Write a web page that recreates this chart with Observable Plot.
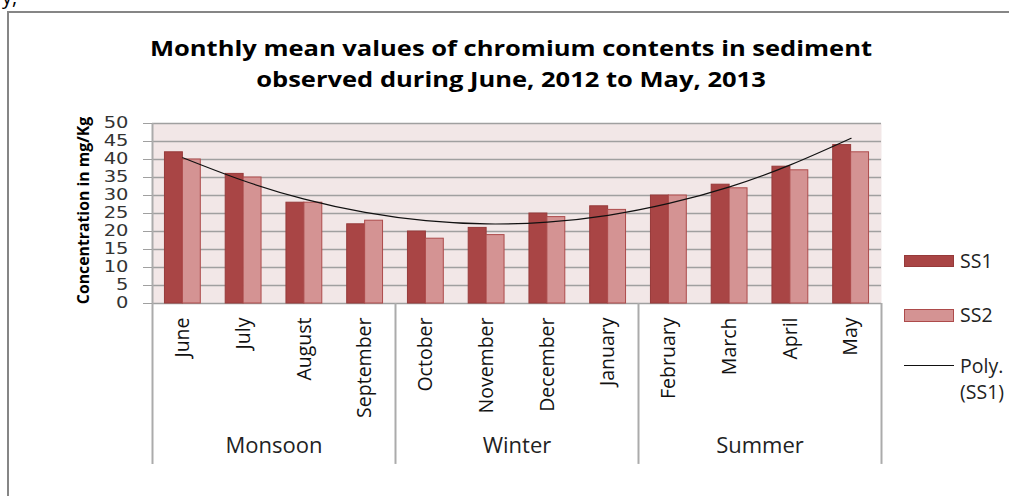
<!DOCTYPE html>
<html>
<head>
<meta charset="utf-8">
<script src="https://cdn.jsdelivr.net/npm/d3@7"></script>
<script src="https://cdn.jsdelivr.net/npm/@observablehq/plot@0.6"></script>
<style>
  html, body { margin: 0; padding: 0; background: #fff; }
  body { width: 1009px; height: 496px; overflow: hidden; position: relative; font-family: "Open Sans", sans-serif; }
  #frame { position: absolute; left: 7px; top: 11px; width: 1200px; height: 700px; border: 2px solid #868686; box-sizing: border-box; }
  #frag { position: absolute; left: 2px; top: -17px; font-size: 20px; color: #000; }
  #title { position: absolute; left: 0; width: 1022px; top: 32px; text-align: center; font-weight: bold; font-size: 22px; line-height: 30.5px; color: #000; transform: scaleX(1.16); transform-origin: 50% 0; }
  #chart { position: absolute; left: 0; top: 0; }
  .sw { position: absolute; box-sizing: border-box; }
  .lt { position: absolute; font-size: 19.5px; line-height: 26px; color: #222; white-space: nowrap; }
</style>
</head>
<body>
<div id="frame"></div>
<div id="frag">y,</div>
<div id="title">Monthly mean values of chromium contents in sediment<br>observed during June, 2012 to May, 2013</div>
<div id="chart"></div>
<div id="legend"></div>
<script>
// ---- data ----
const months = ["June", "July", "August", "September", "October", "November", "December", "January", "February", "March", "April", "May"];
const ss1 = [42, 36, 28, 22, 20, 21, 25, 27, 30, 33, 38, 44];
const ss2 = [40, 35, 28, 23, 18, 19, 24, 26, 30, 32, 37, 42];
const polySS1 = [40.5, 34.1, 29.0, 25.3, 23.0, 22.1, 22.6, 24.5, 27.8, 32.4, 38.5, 45.9];
const seasons = ["Monsoon", "Winter", "Summer"];
const seasonFirstMonth = ["June", "October", "February"];
const seasonMidMonth = ["July", "November", "March"];
const yTicks = [0, 5, 10, 15, 20, 25, 30, 35, 40, 45, 50];
const seriesNames = ["SS1", "SS2", "Poly. (SS1)"];

// ---- styles ----
const C1 = "#a94545", C1s = "#963a3a";
const C2 = "#d49393", C2s = "#ad4b4b";
const gridC = "#a0a0a0", axisC = "#ababab", bgC = "#f2e7e7";

const W = 1009, H = 496;
const mL = 152, mR = 128, mT = 123, mB = 193;
const pad = 0.41;
const step = (W - mL - mR) / months.length;
const bw = step * (1 - pad);

const rows = months.map((m, i) => ({month: m, ss1: ss1[i], ss2: ss2[i], poly: polySS1[i]}));
const seasonRows = seasons.map((s, i) => ({name: s, first: seasonFirstMonth[i], mid: seasonMidMonth[i]}));

const chart = Plot.plot({
  width: W, height: H,
  marginLeft: mL, marginRight: mR, marginTop: mT, marginBottom: mB,
  style: {fontFamily: "'Open Sans', sans-serif", background: "transparent", color: "#222"},
  x: {type: "band", domain: months, paddingInner: pad, paddingOuter: pad / 2, round: false},
  y: {domain: [0, 50]},
  marks: [
    Plot.frame({fill: bgC, stroke: "none"}),
    Plot.ruleY(yTicks, {stroke: gridC, strokeWidth: 1.4}),
    Plot.barY(rows, {x: "month", y: "ss1", fill: C1, stroke: C1s, strokeWidth: 1, insetRight: bw / 2}),
    Plot.barY(rows, {x: "month", y: "ss2", fill: C2, stroke: C2s, strokeWidth: 1, insetLeft: bw / 2}),
    Plot.line(rows, {x: "month", y: "poly", stroke: "#111", strokeWidth: 1.2, curve: "natural"}),
    // left axis line, extended down through the category area
    Plot.ruleX([months[0]], {x: d => d, y1: 50, y2: -44.7, dx: -step / 2, stroke: axisC, strokeWidth: 2}),
    // season separators
    Plot.ruleX(seasonRows.slice(1), {x: "first", y1: 0, y2: -44.7, dx: -step / 2, stroke: axisC, strokeWidth: 2}),
    Plot.ruleX([months[months.length - 1]], {x: d => d, y1: 0, y2: -44.7, dx: step / 2, stroke: axisC, strokeWidth: 2}),
    Plot.axisY({ticks: yTicks, tickSize: 9, tickPadding: 15, fontSize: 15, fontFamily: "'DejaVu Sans', sans-serif", label: null, stroke: gridC, fill: "#333"}),
    Plot.axisX({tickRotate: -90, tickSize: 0, tickPadding: 14, fontSize: 19.5, label: null, fill: "#111"}),
    Plot.text(["Concentration in mg/Kg"], {frameAnchor: "left", text: d => d, rotate: -90, textAnchor: "middle", dx: -69, dy: -3, fontSize: 15.8, fontWeight: "bold", fill: "#000"}),
    Plot.text(seasonRows, {x: "mid", text: "name", frameAnchor: "bottom", dx: step / 2, dy: 149, fontSize: 22, fill: "#222"})
  ]
});
document.getElementById("chart").appendChild(chart);

// widen the y tick labels horizontally, as in the (horizontally stretched) reference
d3.select(chart).selectAll('g[aria-label="y-axis tick label"] text').each(function () {
  const ax = parseFloat(this.getAttribute("x")) || 0;
  const t = this.getAttribute("transform") || "";
  this.setAttribute("transform", `${t} translate(${ax},0) scale(1.3,1) translate(${-ax},0)`.trim());
});

// ---- legend ----
const leg = document.getElementById("legend");
function add(tag, cls, css, text) {
  const e = document.createElement(tag);
  e.className = cls;
  Object.assign(e.style, css);
  if (text) e.textContent = text;
  leg.appendChild(e);
  return e;
}
add("div", "sw", {left: "904px", top: "255px", width: "50px", height: "12px", background: C1, border: `1px solid ${C1s}`});
add("div", "lt", {left: "960px", top: "248px"}, seriesNames[0]);
add("div", "sw", {left: "904px", top: "309px", width: "50px", height: "13px", background: C2, border: `1px solid ${C2s}`});
add("div", "lt", {left: "960px", top: "302px"}, seriesNames[1]);
add("div", "sw", {left: "904px", top: "365px", width: "50px", height: "1.3px", background: "#111"});
add("div", "lt", {left: "960px", top: "353px"}, seriesNames[2].split(" ")[0]);
add("div", "lt", {left: "960px", top: "379px"}, seriesNames[2].split(" ")[1]);
</script>
</body>
</html>
